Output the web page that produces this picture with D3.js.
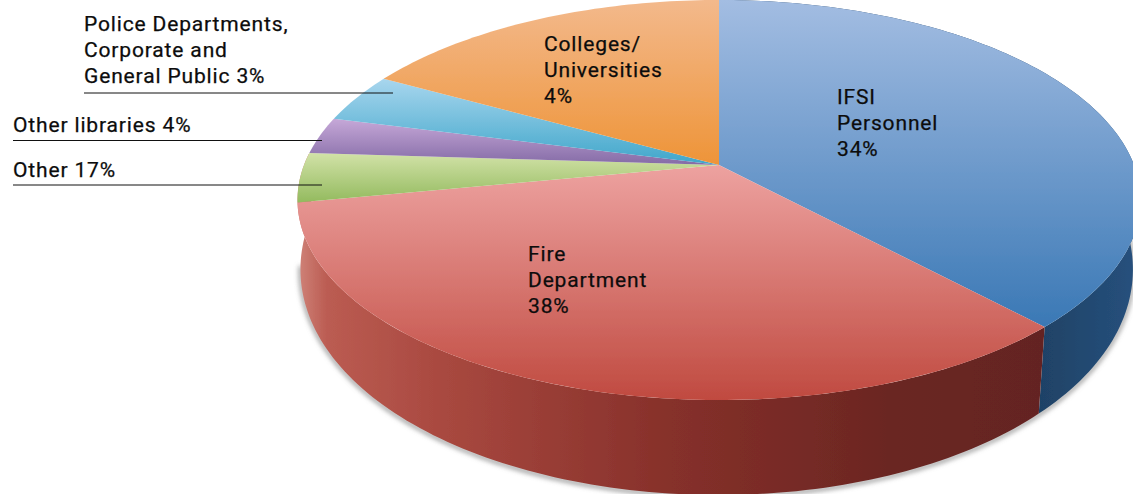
<!DOCTYPE html>
<html>
<head>
<meta charset="utf-8">
<script src="https://cdn.jsdelivr.net/npm/d3@7"></script>
<style>
    html, body { margin: 0; padding: 0; background: #fff; overflow: hidden; }
    text { font-family: Roboto, sans-serif; font-size: 21px; font-weight: 400; letter-spacing: 0.85px; fill: #0c0c0c; stroke: #0c0c0c; stroke-width: 0.25px; }
</style>
</head>
<body>
<svg id="chart" width="1133" height="494"></svg>
<script>
// Slice order is clockwise from the top of the pie
const categories = ['IFSI Personnel', 'Fire Department', 'Other', 'Other libraries', 'Police Departments', 'Colleges/Universities'];
// Size of each slice as drawn (the printed labels do not agree with the drawing)
const sliceShares = [38, 34, 4, 3, 4, 17];
const topColors = [
    ['#a3bde2', '#3a78b5'], ['#eda2a0', '#c04a40'], ['#d2e2a8', '#93ba5e'],
    ['#c6a8d8', '#846ba6'], ['#a8d6ee', '#3fa6ca'], ['#f3b98c', '#ee9438']
];

// Labels inside the pie
const insideLabels = [
    { lines: ['IFSI', 'Personnel', '34%'], x: 837, y: 104 },
    { lines: ['Fire', 'Department', '38%'], x: 528, y: 261 },
    { lines: ['Colleges/', 'Universities', '4%'], x: 544, y: 51 }
];
// Labels outside the pie, each sitting on a rule
const ruledLabels = [
    { lines: ['Police Departments,', 'Corporate and', 'General Public 3%'], x: 84, y: 31, x2: 393, rule: 93 },
    { lines: ['Other libraries 4%'], x: 13, y: 132, x2: 322, rule: 140.5 },
    { lines: ['Other 17%'], x: 13, y: 177, x2: 322, rule: 185 }
];

const svg = d3.select('#chart');
const defs = svg.append('defs');

// Perspective disc: the apex sits off the centre of the ellipse
const apexX = 719, apexY = 165, radiusX = 415, radiusY = 193.9, tilt = 0.175;

function projectTop(angle) {
    const u = Math.sin(angle), v = -Math.cos(angle);
    const w = 1 - tilt * v;
    return [apexX + radiusX * u / w, apexY + radiusY * v / w];
}

function projectBottom(angle) {
    const v = -Math.cos(angle);
    const [x, y] = projectTop(angle);
    const shrink = x < apexX ? 0.993 : 0.982;
    return [apexX + (x - apexX) * shrink, y + 64 + 31 * v];
}

const pie = d3.pie().value(d => d).sort(null);
const slices = pie(sliceShares);
const line = d3.line();

function sampleAngles(a0, a1) {
    const n = Math.max(2, Math.ceil((a1 - a0) / 0.02));
    return d3.range(n + 1).map(i => a0 + (a1 - a0) * i / n);
}

// Vertical gradients for the top faces
topColors.forEach((c, i) => {
    const grad = defs.append('linearGradient')
        .attr('id', `top${i}`)
        .attr('x1', 0).attr('y1', 0).attr('x2', 0).attr('y2', 1);
    grad.append('stop').attr('offset', 0).attr('stop-color', c[0]);
    grad.append('stop').attr('offset', 1).attr('stop-color', c[1]);
});

// Horizontal shading for the two visible walls
const redWall = defs.append('linearGradient')
    .attr('id', 'wallRed').attr('gradientUnits', 'userSpaceOnUse')
    .attr('x1', 297).attr('y1', 0).attr('x2', 1045).attr('y2', 0);
[[0, '#d0847a'], [0.04, '#bb5c52'], [0.2, '#a8483f'], [0.5, '#86302a'], [0.8, '#6a2622'], [1, '#642422']]
    .forEach(s => redWall.append('stop').attr('offset', s[0]).attr('stop-color', s[1]));

const blueWall = defs.append('linearGradient')
    .attr('id', 'wallBlue').attr('gradientUnits', 'userSpaceOnUse')
    .attr('x1', 1040).attr('y1', 0).attr('x2', 1133).attr('y2', 0);
[[0, '#1f4266'], [1, '#26507c']]
    .forEach(s => blueWall.append('stop').attr('offset', s[0]).attr('stop-color', s[1]));

defs.append('filter').attr('id', 'soft')
    .attr('x', '-5%').attr('y', '-5%').attr('width', '110%').attr('height', '110%')
    .append('feGaussianBlur').attr('stdDeviation', 2.5);
defs.append('filter').attr('id', 'edge')
    .attr('x', '-2%').attr('y', '-2%').attr('width', '104%').attr('height', '104%')
    .append('feGaussianBlur').attr('stdDeviation', 0.7);

const pieGroup = svg.append('g');

// Grey shadow under the wall
pieGroup.append('path')
    .attr('d', line(sampleAngles(Math.PI * 0.3, Math.PI * 1.45).map(projectBottom).map(p => [p[0], p[1] + 1])))
    .attr('fill', 'none')
    .attr('stroke', '#7d7d7d')
    .attr('stroke-width', 3)
    .attr('filter', 'url(#soft)');

const softened = pieGroup.append('g').attr('filter', 'url(#edge)');

// Only the first two slices show a wall, the red one runs on behind the green slice
softened.selectAll('.wall')
    .data(slices.slice(0, 2))
    .join('path')
    .attr('class', 'wall')
    .attr('d', (d, i) => {
        const angles = sampleAngles(d.startAngle, i === 1 ? d.endAngle + 0.25 : d.endAngle);
        return line(angles.map(projectTop).concat(angles.slice().reverse().map(projectBottom))) + 'Z';
    })
    .attr('fill', (d, i) => i === 0 ? 'url(#wallBlue)' : 'url(#wallRed)');

softened.selectAll('.face')
    .data(slices)
    .join('path')
    .attr('class', 'face')
    .attr('d', d => line([[apexX, apexY]].concat(sampleAngles(d.startAngle, d.endAngle).map(projectTop))) + 'Z')
    .attr('fill', (d, i) => `url(#top${i})`);

// Text
function drawLines(group, d) {
    group.selectAll('text')
        .data(d.lines)
        .join('text')
        .attr('x', d.x)
        .attr('y', (t, i) => d.y + i * 26)
        .text(t => t);
}

insideLabels.forEach(d => drawLines(svg.append('g'), d));

ruledLabels.forEach(d => {
    const g = svg.append('g');
    drawLines(g, d);
    g.append('line')
        .attr('x1', d.x).attr('x2', d.x2)
        .attr('y1', d.rule).attr('y2', d.rule)
        .attr('stroke', '#111')
        .attr('stroke-width', 1);
});
</script>
</body>
</html>
